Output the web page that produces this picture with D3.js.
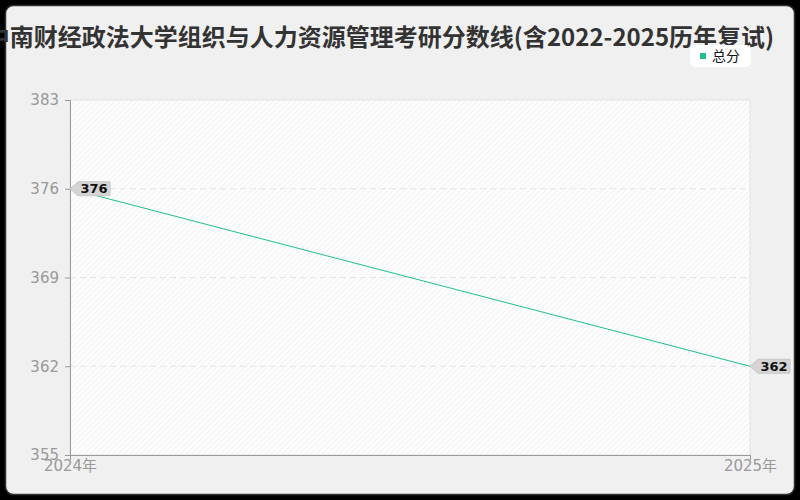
<!DOCTYPE html>
<html>
<head>
<meta charset="utf-8">
<script src="https://cdn.jsdelivr.net/npm/d3@7"></script>
<style>
  html, body { margin: 0; padding: 0; background: #000; }
  svg { display: block; font-family: "Noto Sans CJK SC", "Noto Sans", sans-serif; }
</style>
</head>
<body>
<div id="chart"></div>
<script>
// 数据
const titleText = "中南财经政法大学组织与人力资源管理考研分数线(含2022-2025历年复试)";
const years = ["2024年", "2025年"];
const totalScores = [376, 362];
const yTicks = [355, 362, 369, 376, 383];
const seriesName = "总分";

const W = 800, H = 500;
const margin = { top: 100, right: 50, bottom: 45, left: 70 };
const width = W - margin.left - margin.right;
const height = H - margin.top - margin.bottom;
const lineColor = "#1fbf8f";

const root = d3.select("#chart").append("svg")
    .attr("width", W)
    .attr("height", H);

// 斜线底纹
const defs = root.append("defs");
const pat = defs.append("pattern")
    .attr("id", "hatch")
    .attr("width", 4)
    .attr("height", 4)
    .attr("patternUnits", "userSpaceOnUse")
    .attr("patternTransform", "rotate(45)");
pat.append("rect").attr("width", 4).attr("height", 4).attr("fill", "#fdfdfd");
pat.append("line")
    .attr("x1", 0).attr("y1", 0).attr("x2", 0).attr("y2", 4)
    .attr("stroke", "#ececec").attr("stroke-width", 1.2);

// 卡片背景
root.append("rect")
    .attr("x", 5.5).attr("y", 5.5)
    .attr("width", W - 11).attr("height", H - 11)
    .attr("rx", 8).attr("ry", 8)
    .attr("fill", "#f0f0f0")
    .attr("stroke", "#333")
    .attr("stroke-width", 1.5);

const svg = root.append("g")
    .attr("transform", `translate(${margin.left},${margin.top})`);

const x = d3.scalePoint().domain(years).range([0, width]);
const y = d3.scaleLinear().domain([355, 383]).range([height, 0]);

// 绘图区
svg.append("rect")
    .attr("width", width)
    .attr("height", height)
    .attr("fill", "url(#hatch)")
    .attr("stroke", "#e2e2e2");

// 网格线
svg.selectAll(".grid")
    .data(yTicks.slice(1, -1))
    .enter()
    .append("line")
    .attr("x1", 0).attr("x2", width)
    .attr("y1", d => y(d)).attr("y2", d => y(d))
    .attr("stroke", "#e4e4e4")
    .attr("stroke-dasharray", "6,4");

// Y 轴
const yAxis = svg.append("g")
    .call(d3.axisLeft(y).tickValues(yTicks).tickSize(5).tickPadding(6).tickFormat(d3.format("d")));
yAxis.select(".domain").attr("stroke", "#999");
yAxis.selectAll(".tick line").attr("stroke", "#999");
yAxis.selectAll("text").attr("fill", "#999").attr("font-size", 15)
    .attr("font-family", "'DejaVu Sans', sans-serif");

// X 轴
const xAxis = svg.append("g")
    .attr("transform", `translate(0,${height})`)
    .call(d3.axisBottom(x).tickSize(5).tickPadding(0));
xAxis.select(".domain").attr("stroke", "#999");
xAxis.selectAll(".tick line").attr("stroke", "#999");
xAxis.selectAll("text").attr("fill", "#999").attr("font-size", 15)
    .attr("font-family", "'DejaVu Sans', 'Noto Sans CJK SC', sans-serif");

// 折线
const line = d3.line()
    .x((d, i) => x(years[i]))
    .y(d => y(d));
svg.append("path")
    .datum(totalScores)
    .attr("fill", "none")
    .attr("stroke", lineColor)
    .attr("stroke-width", 1)
    .attr("d", line);

// 数据标签
const labels = svg.selectAll(".lbl")
    .data(totalScores)
    .enter()
    .append("g")
    .attr("transform", (d, i) => `translate(${x(years[i])},${y(d)})`);
labels.append("path")
    .attr("d", "M0,0 L8,-7 L40,-7 L40,7 L8,7 Z")
    .attr("fill", "#d4d4d4")
    .attr("stroke", "#c8c8c8");
labels.append("text")
    .attr("x", 24)
    .attr("y", 0)
    .attr("dy", "0.35em")
    .attr("text-anchor", "middle")
    .style("font-size", "13px")
    .style("font-weight", "bold")
    .style("font-family", "'DejaVu Sans', sans-serif")
    .attr("fill", "#111")
    .text(d => d);

// 标题
root.append("text")
    .attr("x", 380)
    .attr("y", 46)
    .attr("text-anchor", "middle")
    .style("font-size", "24px")
    .style("font-weight", "bold")
    .attr("fill", "#333")
    .text(titleText);

// 图例
const legend = root.append("g").attr("transform", "translate(690,45)");
legend.append("rect")
    .attr("width", 61).attr("height", 22)
    .attr("rx", 5).attr("ry", 5)
    .attr("fill", "#fff");
legend.append("rect")
    .attr("x", 10).attr("y", 8)
    .attr("width", 6).attr("height", 6)
    .attr("fill", lineColor);
legend.append("text")
    .attr("x", 22).attr("y", 11)
    .attr("dy", "0.35em")
    .style("font-size", "14px")
    .attr("fill", "#111")
    .text(seriesName);
</script>
</body>
</html>
